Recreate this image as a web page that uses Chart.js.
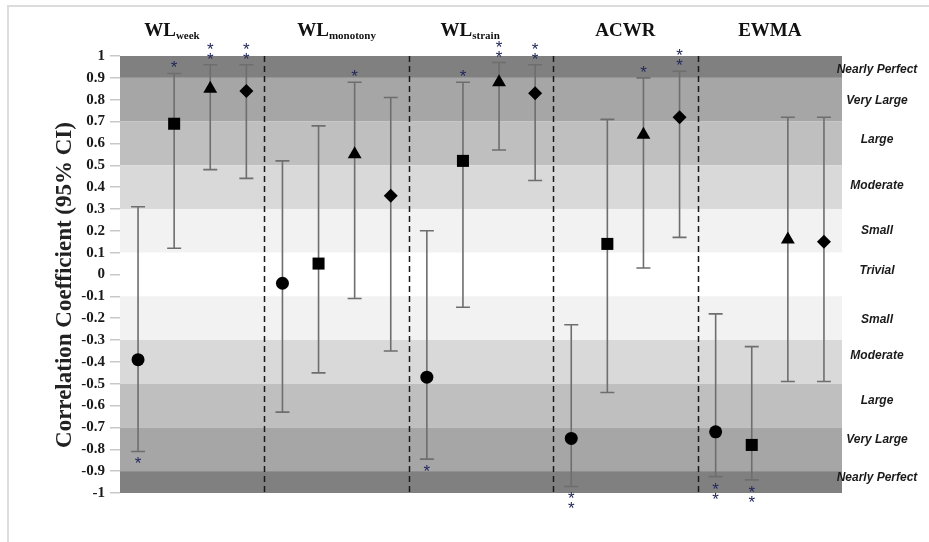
<!DOCTYPE html>
<html>
<head>
<meta charset="utf-8">
<script src="https://cdn.jsdelivr.net/npm/chart.js@4.4.0/dist/chart.umd.min.js"></script>
<style>
  html, body { margin: 0; padding: 0; background: #fff; }
  #wrap { width: 929px; height: 542px; }
</style>
</head>
<body>
<div id="wrap"><canvas id="corr-chart" width="929" height="542"></canvas></div>
<script>
// groups along the x axis (title + subscript)
var groupTitles = ['WL', 'WL', 'WL', 'ACWR', 'EWMA'];
var groupSubs = ['week', 'monotony', 'strain', '', ''];

// correlation + 95% CI, one array per marker
var circleR = [-0.39, -0.04, -0.47, -0.75, -0.72];
var circleLo = [-0.81, -0.63, -0.845, -0.97, -0.925];
var circleHi = [0.31, 0.52, 0.20, -0.23, -0.18];
var circleStars = [-1, 0, -1, -2, -2];

var squareR = [0.69, 0.05, 0.52, 0.14, -0.78];
var squareLo = [0.12, -0.45, -0.15, -0.54, -0.94];
var squareHi = [0.92, 0.68, 0.88, 0.71, -0.33];
var squareStars = [1, 0, 1, 0, -2];

var triR = [0.85, 0.55, 0.88, 0.64, 0.16];
var triLo = [0.48, -0.11, 0.57, 0.03, -0.49];
var triHi = [0.96, 0.88, 0.97, 0.90, 0.72];
var triStars = [2, 1, 2, 1, 0];

var diaR = [0.84, 0.36, 0.83, 0.72, 0.15];
var diaLo = [0.44, -0.35, 0.43, 0.17, -0.49];
var diaHi = [0.96, 0.81, 0.96, 0.93, 0.72];
var diaStars = [2, 0, 2, 2, 0];

// magnitude bands
var bandEdges = [1, 0.9, 0.7, 0.5, 0.3, 0.1, -0.1, -0.3, -0.5, -0.7, -0.9, -1];
var bandLabels = ['Nearly Perfect', 'Very Large', 'Large', 'Moderate', 'Small', 'Trivial',
                  'Small', 'Moderate', 'Large', 'Very Large', 'Nearly Perfect'];
var bandLabelAt = [0.936, 0.794, 0.616, 0.405, 0.2, 0.017, -0.207, -0.372, -0.578, -0.756, -0.93];

var bandColors = ['#808080', '#a6a6a6', '#bfbfbf', '#d9d9d9', '#f2f2f2', '#ffffff',
                  '#f2f2f2', '#d9d9d9', '#bfbfbf', '#a6a6a6', '#808080'];

var series = [
    { r: circleR, lo: circleLo, hi: circleHi, stars: circleStars, style: 'circle', radius: 6.5 },
    { r: squareR, lo: squareLo, hi: squareHi, stars: squareStars, style: 'rect', radius: 8.5 },
    { r: triR, lo: triLo, hi: triHi, stars: triStars, style: 'triangle', radius: 8 },
    { r: diaR, lo: diaLo, hi: diaHi, stars: diaStars, style: 'rectRot', radius: 7 }
];

var datasets = series.map(function(s, i) {
    return {
        data: s.r.map(function(v, g) { return { x: g * 4 + i, y: v }; }),
        pointStyle: s.style,
        pointRadius: s.radius,
        pointHoverRadius: s.radius,
        backgroundColor: '#000',
        borderColor: '#000',
        borderWidth: 0,
        showLine: false
    };
});

var decor = {
    id: 'decor',
    beforeDraw: function(chart) {
        var ctx = chart.ctx, a = chart.chartArea, y = chart.scales.y;
        ctx.save();
        ctx.fillStyle = '#fff';
        ctx.fillRect(0, 0, chart.width, chart.height);
        // page frame
        ctx.strokeStyle = '#dcdcdc';
        ctx.lineWidth = 2;
        ctx.strokeRect(8, 6, chart.width + 20, chart.height + 20);
        // bands
        for (var i = 0; i < bandColors.length; i++) {
            var t = y.getPixelForValue(bandEdges[i]);
            var b = y.getPixelForValue(bandEdges[i + 1]);
            ctx.fillStyle = bandColors[i];
            ctx.fillRect(a.left, t, a.right - a.left, b - t);
        }
        ctx.restore();
    },
    beforeDatasetsDraw: function(chart) {
        var ctx = chart.ctx, a = chart.chartArea, x = chart.scales.x, y = chart.scales.y;
        ctx.save();
        // group dividers
        ctx.strokeStyle = '#1a1a1a';
        ctx.lineWidth = 1.5;
        ctx.setLineDash([6, 4]);
        for (var g = 1; g < groupTitles.length; g++) {
            var px = Math.round(x.getPixelForValue(g * 4 - 0.5)) + 0.5;
            ctx.beginPath();
            ctx.moveTo(px, a.top);
            ctx.lineTo(px, a.bottom);
            ctx.stroke();
        }
        ctx.setLineDash([]);
        // error bars
        ctx.strokeStyle = '#6e6e6e';
        ctx.lineWidth = 1.6;
        series.forEach(function(s, i) {
            var meta = chart.getDatasetMeta(i);
            meta.data.forEach(function(pt, k) {
                var yl = y.getPixelForValue(s.lo[k]);
                var yh = y.getPixelForValue(s.hi[k]);
                ctx.beginPath();
                ctx.moveTo(pt.x, yl); ctx.lineTo(pt.x, yh);
                ctx.moveTo(pt.x - 7, yl); ctx.lineTo(pt.x + 7, yl);
                ctx.moveTo(pt.x - 7, yh); ctx.lineTo(pt.x + 7, yh);
                ctx.stroke();
            });
        });
        ctx.restore();
    },
    afterDraw: function(chart) {
        var ctx = chart.ctx, a = chart.chartArea, x = chart.scales.x, y = chart.scales.y;
        ctx.save();
        // asterisks
        ctx.fillStyle = '#23285a';
        ctx.font = '17px "Liberation Sans"';
        ctx.textAlign = 'center';
        ctx.textBaseline = 'alphabetic';
        series.forEach(function(s, i) {
            var meta = chart.getDatasetMeta(i);
            meta.data.forEach(function(pt, k) {
                var n = s.stars[k];
                for (var j = 0; j < Math.abs(n); j++) {
                    var cy;
                    if (n > 0) cy = y.getPixelForValue(s.hi[k]) - 10 - j * 10;
                    else cy = y.getPixelForValue(s.lo[k]) + 8 + j * 10;
                    ctx.fillText('*', pt.x, cy + 10);
                }
            });
        });
        // band labels on the right
        ctx.fillStyle = '#1a1a1a';
        ctx.font = 'italic bold 12px "Liberation Sans"';
        ctx.textBaseline = 'middle';
        bandLabels.forEach(function(t, i) {
            ctx.fillText(t, 877, y.getPixelForValue(bandLabelAt[i]));
        });
        // group titles
        var centres = [0.94, 5.5, 9.2, 13.5, 17.5];
        ctx.textBaseline = 'alphabetic';
        ctx.textAlign = 'left';
        groupTitles.forEach(function(t, g) {
            ctx.font = 'bold 19px "Liberation Serif"';
            var w1 = ctx.measureText(t).width;
            ctx.font = 'bold 11px "Liberation Serif"';
            var w2 = ctx.measureText(groupSubs[g]).width;
            var left = x.getPixelForValue(centres[g]) - (w1 + w2) / 2;
            ctx.fillStyle = '#111';
            ctx.font = 'bold 19px "Liberation Serif"';
            ctx.fillText(t, left, 36);
            ctx.font = 'bold 11px "Liberation Serif"';
            ctx.fillText(groupSubs[g], left + w1, 39);
        });
        // y axis title
        ctx.translate(65, 285);
        ctx.rotate(-Math.PI / 2);
        ctx.textAlign = 'center';
        ctx.textBaseline = 'middle';
        ctx.font = 'bold 23px "Liberation Serif"';
        ctx.fillStyle = '#222';
        ctx.fillText('Correlation Coefficient (95% CI)', 0, 0);
        ctx.restore();
    }
};

new Chart(document.getElementById('corr-chart'), {
    type: 'scatter',
    data: { datasets: datasets },
    options: {
        responsive: false,
        animation: false,
        events: [],
        layout: { padding: { left: 0, right: 87, top: 56, bottom: 49 } },
        plugins: { legend: { display: false }, tooltip: { enabled: false } },
        scales: {
            x: { type: 'linear', min: -0.5, max: 19.5, display: false },
            y: {
                type: 'linear', min: -1, max: 1,
                afterFit: function(scale) { scale.width = 120; },
                border: { display: false },
                grid: { drawOnChartArea: false, tickLength: 10, color: '#c8c8c8', lineWidth: 1.5 },
                ticks: {
                    stepSize: 0.1,
                    padding: 5,
                    color: '#1a1a1a',
                    font: { family: '"Liberation Serif"', weight: 'bold', size: 15 },
                    callback: function(v) { return String(Number(v.toFixed(1))); }
                }
            }
        }
    },
    plugins: [decor]
});
</script>
</body>
</html>
